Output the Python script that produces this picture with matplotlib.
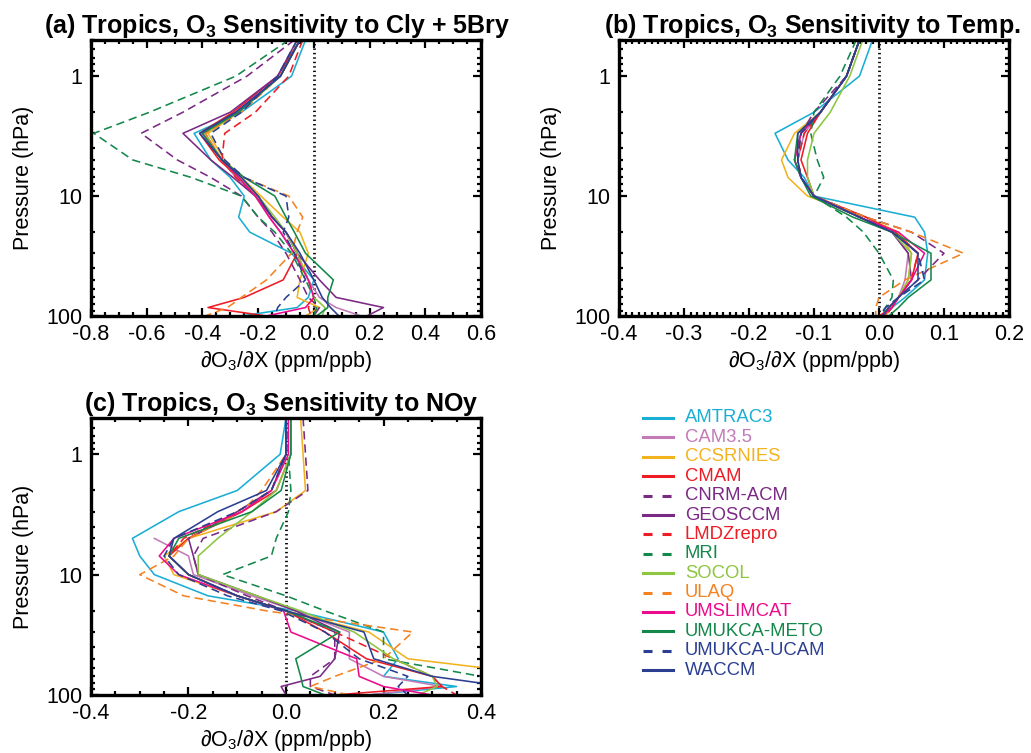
import numpy as np
import matplotlib
matplotlib.use('Agg')
import matplotlib.pyplot as plt
from matplotlib.ticker import MultipleLocator, FixedLocator, FixedFormatter, LogLocator, NullFormatter, FormatStrFormatter
from matplotlib.lines import Line2D

plt.rcParams['font.family'] = ['Liberation Sans', 'DejaVu Sans']
plt.rcParams['mathtext.fontset'] = 'custom'
plt.rcParams['mathtext.rm'] = 'Liberation Sans'
plt.rcParams['mathtext.bf'] = 'Liberation Sans:bold'
plt.rcParams['mathtext.it'] = 'Liberation Sans:italic'
plt.rcParams['axes.unicode_minus'] = False
plt.rcParams['lines.scale_dashes'] = False

# ---------------- data ----------------
pressure = [0.5, 1, 2, 3, 5, 7, 10, 15, 20, 30, 50, 70, 85, 100]

models = ["AMTRAC3", "CAM3.5", "CCSRNIES", "CMAM", "CNRM-ACM", "GEOSCCM",
          "LMDZrepro", "MRI", "SOCOL", "ULAQ", "UMSLIMCAT", "UMUKCA-METO",
          "UMUKCA-UCAM", "WACCM"]
colors = ["#1aaed4", "#c27ab9", "#f2b31f", "#ee1c25", "#7b2a84", "#7b2a84",
          "#ee1c25", "#14884a", "#8dc63f", "#f58220", "#ec0b8c", "#14884a",
          "#2b3f92", "#2b3f92"]
dashed = [False, False, False, False, True, False,
          True, True, False, True, False, False,
          True, False]

# (a) sensitivity to Cly + 5Bry
sens_cly = [
    [-0.03, -0.08, -0.26, -0.43, -0.37, -0.30, -0.25, -0.27, -0.23, -0.08, 0.00, -0.02, -0.06, -0.26],
    [-0.05, -0.12, -0.27, -0.39, -0.33, -0.28, -0.21, -0.16, -0.12, -0.07, -0.02, 0.02, 0.08, 0.17],
    [-0.05, -0.12, -0.27, -0.38, -0.32, -0.26, -0.19, -0.11, -0.05, -0.02, -0.05, -0.06, 0.02, -0.03],
    [-0.05, -0.13, -0.29, -0.41, -0.34, -0.27, -0.20, -0.15, -0.10, -0.06, -0.11, -0.25, -0.38, -0.17],
    [-0.07, -0.24, -0.47, -0.62, -0.49, -0.37, -0.26, -0.20, -0.15, -0.10, -0.05, -0.02, 0.02, 0.00],
    [-0.06, -0.13, -0.30, -0.47, -0.37, -0.29, -0.21, -0.15, -0.10, -0.06, 0.02, 0.08, 0.25, 0.19],
    [-0.04, -0.09, -0.21, -0.32, -0.33, -0.28, -0.20, -0.15, -0.10, -0.06, -0.02, 0.00, -0.02, -0.01],
    [-0.09, -0.28, -0.59, -0.79, -0.65, -0.44, -0.26, -0.20, -0.14, -0.08, -0.03, 0.00, 0.01, 0.00],
    [-0.05, -0.12, -0.27, -0.39, -0.33, -0.27, -0.20, -0.14, -0.10, -0.06, -0.02, 0.00, 0.04, 0.03],
    [-0.05, -0.12, -0.26, -0.39, -0.33, -0.25, -0.09, -0.04, -0.06, -0.08, -0.17, -0.26, -0.31, -0.39],
    [-0.05, -0.12, -0.28, -0.40, -0.33, -0.27, -0.21, -0.16, -0.12, -0.07, -0.02, 0.00, -0.03, -0.17],
    [-0.05, -0.12, -0.27, -0.40, -0.33, -0.25, -0.14, -0.10, -0.07, -0.03, 0.07, 0.05, 0.05, 0.01],
    [-0.06, -0.13, -0.26, -0.37, -0.32, -0.25, -0.10, -0.09, -0.11, -0.07, -0.03, -0.10, -0.13, -0.14],
    [-0.05, -0.12, -0.28, -0.41, -0.33, -0.26, -0.20, -0.15, -0.10, -0.05, 0.00, 0.03, 0.06, 0.09],
]

# (b) sensitivity to temperature
sens_temp = [
    [-0.010, -0.030, -0.100, -0.160, -0.140, -0.115, -0.100, 0.055, 0.070, 0.075, 0.070, 0.040, 0.020, 0.005],
    [-0.030, -0.050, -0.090, -0.115, -0.125, -0.120, -0.100, -0.030, 0.020, 0.045, 0.040, 0.030, 0.015, 0.005],
    [-0.030, -0.050, -0.090, -0.130, -0.150, -0.140, -0.110, -0.020, 0.030, 0.050, 0.045, 0.030, 0.020, 0.010],
    [-0.030, -0.050, -0.090, -0.110, -0.120, -0.110, -0.100, -0.020, 0.025, 0.060, 0.050, 0.030, 0.020, 0.000],
    [-0.030, -0.050, -0.100, -0.120, -0.125, -0.120, -0.100, -0.020, 0.050, 0.100, 0.060, 0.030, 0.015, 0.005],
    [-0.030, -0.050, -0.090, -0.120, -0.130, -0.120, -0.100, -0.030, 0.020, 0.045, 0.050, 0.030, 0.015, 0.005],
    [-0.030, -0.050, -0.090, -0.115, -0.125, -0.120, -0.100, -0.030, 0.025, 0.060, 0.050, 0.030, 0.020, 0.010],
    [-0.035, -0.060, -0.100, -0.105, -0.095, -0.085, -0.100, -0.050, -0.024, 0.000, 0.022, 0.020, 0.010, 0.005],
    [-0.025, -0.045, -0.075, -0.100, -0.110, -0.110, -0.100, -0.030, 0.020, 0.050, 0.045, 0.030, 0.015, 0.005],
    [-0.030, -0.050, -0.090, -0.120, -0.125, -0.120, -0.100, -0.020, 0.050, 0.130, 0.040, 0.000, -0.005, -0.005],
    [-0.030, -0.050, -0.090, -0.120, -0.130, -0.120, -0.100, -0.030, 0.030, 0.070, 0.050, 0.030, 0.020, 0.005],
    [-0.030, -0.050, -0.090, -0.125, -0.130, -0.120, -0.105, -0.040, 0.020, 0.080, 0.080, 0.045, 0.030, 0.015],
    [-0.030, -0.050, -0.090, -0.120, -0.125, -0.120, -0.100, -0.030, 0.020, 0.060, 0.070, 0.030, 0.010, 0.000],
    [-0.030, -0.050, -0.090, -0.125, -0.125, -0.120, -0.100, -0.030, 0.020, 0.060, 0.060, 0.030, 0.015, 0.005],
]

# (c) sensitivity to NOy
nan = np.nan
sens_noy = [
    [0.000, -0.012, -0.100, -0.220, -0.315, -0.300, -0.270, -0.160, 0.020, 0.200, 0.230, 0.200, 0.350, 0.170],
    [nan, nan, nan, nan, -0.270, -0.200, -0.190, -0.070, 0.020, 0.130, 0.130, 0.200, 0.320, 0.170],
    [0.030, 0.035, 0.040, -0.020, -0.200, -0.250, -0.230, -0.100, 0.000, 0.170, 0.250, 0.550, 0.600, 0.600],
    [0.010, 0.010, -0.020, -0.090, -0.200, -0.240, -0.200, -0.100, 0.000, 0.080, 0.165, 0.300, 0.320, 0.100],
    [0.035, 0.040, 0.045, -0.020, -0.170, -0.190, -0.180, -0.080, 0.000, 0.100, 0.100, 0.050, 0.050, 0.100],
    [0.000, 0.000, -0.030, -0.100, -0.200, -0.190, -0.180, -0.060, 0.020, 0.110, 0.100, 0.070, -0.010, 0.000],
    [0.000, 0.000, -0.030, -0.100, -0.210, -0.240, -0.200, -0.100, 0.000, 0.100, 0.220, 0.300, 0.320, 0.350],
    [0.000, 0.005, 0.010, 0.005, -0.020, -0.030, -0.130, 0.000, 0.080, 0.200, 0.200, 0.400, 0.450, 0.450],
    [0.010, 0.010, -0.020, -0.070, -0.140, -0.180, -0.180, -0.060, 0.030, 0.140, 0.220, 0.300, 0.310, 0.270],
    [0.000, 0.000, -0.050, -0.090, -0.200, -0.230, -0.300, -0.210, -0.040, 0.260, 0.200, 0.100, 0.050, 0.130],
    [0.005, 0.005, -0.030, -0.090, -0.230, -0.260, -0.220, -0.100, -0.005, 0.010, 0.145, 0.150, 0.200, 0.300],
    [0.010, 0.010, -0.010, -0.070, -0.220, -0.240, -0.200, -0.100, 0.000, 0.110, 0.020, 0.030, 0.035, 0.080],
    [0.000, 0.000, -0.030, -0.100, -0.230, -0.250, -0.220, -0.120, -0.010, 0.080, 0.150, 0.250, 0.230, 0.250],
    [0.000, 0.000, -0.040, -0.140, -0.230, -0.240, -0.200, -0.100, 0.000, 0.160, 0.180, 0.300, 0.450, 0.450],
]

titles = [r"(a) Tropics, O$_{\mathbf{3}}$ Sensitivity to Cly + 5Bry",
          r"(b) Tropics, O$_{\mathbf{3}}$ Sensitivity to Temp.",
          r"(c) Tropics, O$_{\mathbf{3}}$ Sensitivity to NOy"]
xlims = [(-0.8, 0.6), (-0.4, 0.2), (-0.4, 0.4)]
xmajor = [0.2, 0.1, 0.2]
xminor = [0.05, 0.01, 0.05]
title_x = [0.477, 0.495, 0.487]
xlabel = r"∂O$_3$/∂X (ppm/ppb)"

# ---------------- figure ----------------
W, H = 1031, 753
fig = plt.figure(figsize=(W / 100, H / 100), dpi=100)

def frac(left, top, right, bottom):
    return [left / W, 1 - bottom / H, (right - left) / W, (bottom - top) / H]

axes = [fig.add_axes(frac(91, 40, 481, 316)),
        fig.add_axes(frac(619, 40, 1009, 316)),
        fig.add_axes(frac(91, 418, 481, 695))]

datasets = [sens_cly, sens_temp, sens_noy]

for i, ax in enumerate(axes):
    data = datasets[i]
    for m in range(len(models)):
        ls = (0, (6, 3.5)) if dashed[m] else '-'
        ax.plot(data[m], pressure, color=colors[m], lw=1.15, ls=ls)
    ax.axvline(0.0, color='black', lw=2.0, ls=(0, (1, 2.2)), zorder=1)
    ax.set_yscale('log')
    ax.set_ylim(100, 0.5)
    ax.set_xlim(*xlims[i])
    ax.yaxis.set_major_locator(FixedLocator([1, 10, 100]))
    ax.yaxis.set_major_formatter(FixedFormatter(['1', '10', '100']))
    ax.yaxis.set_minor_locator(LogLocator(base=10, subs=np.arange(2, 10)))
    ax.yaxis.set_minor_formatter(NullFormatter())
    ax.xaxis.set_major_locator(MultipleLocator(xmajor[i]))
    ax.xaxis.set_minor_locator(MultipleLocator(xminor[i]))
    ax.xaxis.set_major_formatter(FormatStrFormatter('%.1f'))
    ax.tick_params(which='both', direction='in', top=True, right=True,
                   labelsize=15.5, width=1.6, color='black')
    ax.tick_params(which='major', length=6, pad=6)
    ax.tick_params(which='minor', length=3.2)
    for sp in ax.spines.values():
        sp.set_linewidth(2.4)
    ax.set_xlabel(xlabel, fontsize=15.5)
    ax.set_ylabel("Pressure (hPa)", fontsize=15.5)
    ax.yaxis.set_label_coords(-0.145, 0.5)
    ax.xaxis.set_label_coords(0.5, -0.118)
    t = ax.set_title(titles[i], fontsize=18, fontweight='bold', pad=3)
    t.set_x(title_x[i])

# ---------------- legend ----------------
leg_x0, leg_x1, leg_tx = 643, 673, 685
leg_y0, leg_dy = 418, 19.4
for m, name in enumerate(models):
    y = 1 - (leg_y0 + m * leg_dy) / H
    ls = (0, (6.5, 7.2)) if dashed[m] else '-'
    fig.add_artist(Line2D([leg_x0 / W, leg_x1 / W], [y, y], color=colors[m],
                          lw=2.2, ls=ls, transform=fig.transFigure))
    fig.text(leg_tx / W, y, name, color=colors[m], fontsize=13.3,
             va='center', ha='left')

fig.savefig('out.png', dpi=100)
